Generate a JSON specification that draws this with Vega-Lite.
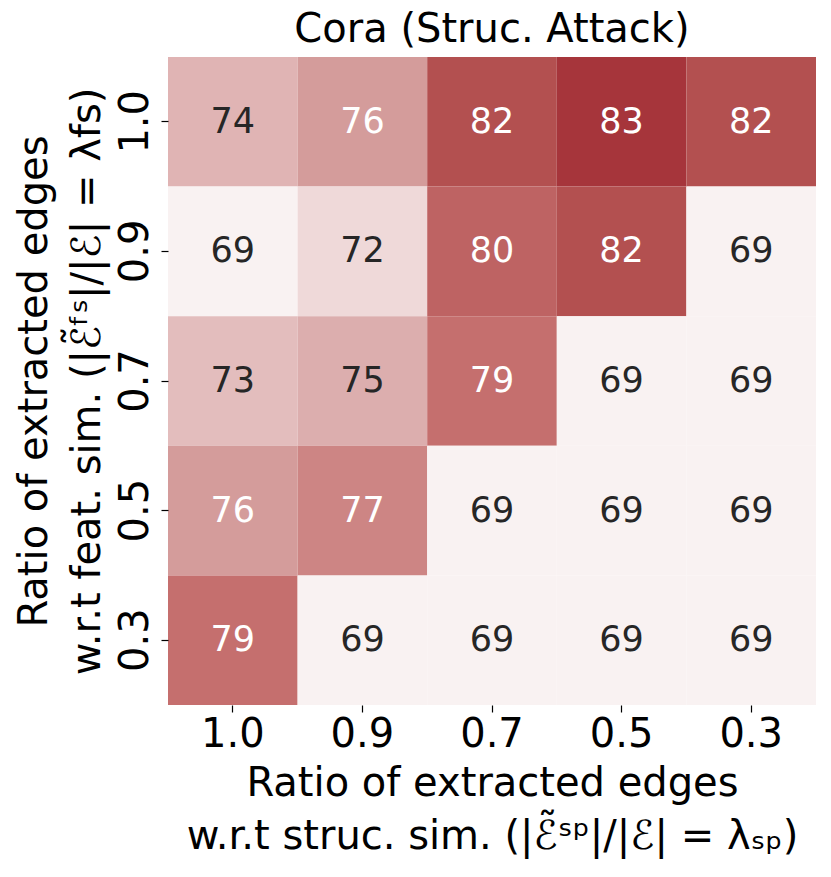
{
  "$schema": "https://vega.github.io/schema/vega-lite/v6.json",
  "autosize": "none",
  "padding": {"left": 168, "top": 57, "right": 15, "bottom": 172},
  "width": 648,
  "height": 648,
  "background": "white",
  "config": {
    "font": "DejaVu Sans",
    "view": {"stroke": null},
    "axis": {
      "domain": false,
      "ticks": true,
      "tickColor": "#000000",
      "tickSize": 7,
      "tickWidth": 1.2,
      "labelFontSize": 40,
      "labelColor": "#000000",
      "titleFontSize": 40,
      "titleFontWeight": "normal",
      "titleColor": "#000000",
      "grid": false
    }
  },
  "title": {
    "text": "Cora (Struc. Attack)",
    "fontSize": 40,
    "fontWeight": "normal",
    "color": "#000000",
    "anchor": "middle",
    "offset": 7
  },
  "data": {
    "values": [
      {"feat": "1.0", "struc": "1.0", "acc": 74},
      {"feat": "1.0", "struc": "0.9", "acc": 76},
      {"feat": "1.0", "struc": "0.7", "acc": 82},
      {"feat": "1.0", "struc": "0.5", "acc": 83},
      {"feat": "1.0", "struc": "0.3", "acc": 82},
      {"feat": "0.9", "struc": "1.0", "acc": 69},
      {"feat": "0.9", "struc": "0.9", "acc": 72},
      {"feat": "0.9", "struc": "0.7", "acc": 80},
      {"feat": "0.9", "struc": "0.5", "acc": 82},
      {"feat": "0.9", "struc": "0.3", "acc": 69},
      {"feat": "0.7", "struc": "1.0", "acc": 73},
      {"feat": "0.7", "struc": "0.9", "acc": 75},
      {"feat": "0.7", "struc": "0.7", "acc": 79},
      {"feat": "0.7", "struc": "0.5", "acc": 69},
      {"feat": "0.7", "struc": "0.3", "acc": 69},
      {"feat": "0.5", "struc": "1.0", "acc": 76},
      {"feat": "0.5", "struc": "0.9", "acc": 77},
      {"feat": "0.5", "struc": "0.7", "acc": 69},
      {"feat": "0.5", "struc": "0.5", "acc": 69},
      {"feat": "0.5", "struc": "0.3", "acc": 69},
      {"feat": "0.3", "struc": "1.0", "acc": 79},
      {"feat": "0.3", "struc": "0.9", "acc": 69},
      {"feat": "0.3", "struc": "0.7", "acc": 69},
      {"feat": "0.3", "struc": "0.5", "acc": 69},
      {"feat": "0.3", "struc": "0.3", "acc": 69}
    ]
  },
  "encoding": {
    "x": {
      "field": "struc",
      "type": "ordinal",
      "sort": ["1.0", "0.9", "0.7", "0.5", "0.3"],
      "scale": {"paddingInner": 0, "paddingOuter": 0},
      "axis": {
        "labelAngle": 0,
        "labelPadding": 2,
        "title": ["Ratio of extracted edges", "w.r.t struc. sim. (|ℰ̃ˢᵖ|/|ℰ| = λₛₚ)"],
        "titleLineHeight": 53,
        "titlePadding": 9
      }
    },
    "y": {
      "field": "feat",
      "type": "ordinal",
      "sort": ["1.0", "0.9", "0.7", "0.5", "0.3"],
      "scale": {"paddingInner": 0, "paddingOuter": 0},
      "axis": {
        "labelAngle": -90,
        "labelAlign": "center",
        "labelBaseline": "bottom",
        "labelPadding": 6,
        "title": ["Ratio of extracted edges", "w.r.t feat. sim. (|ℰ̃ᶠˢ|/|ℰ| = λfs)"],
        "titleLineHeight": 53,
        "titlePadding": 8
      }
    }
  },
  "layer": [
    {
      "mark": {"type": "rect"},
      "encoding": {
        "color": {
          "field": "acc",
          "type": "quantitative",
          "scale": {
            "domain": [69, 72, 73, 74, 75, 76, 77, 79, 80, 82, 83],
            "range": ["#f9f2f2", "#efd9d9", "#e3bdbd", "#e0b4b4", "#dcaeae", "#d49c9b", "#cd8584", "#c56f6e", "#be6363", "#b35050", "#a6353b"]
          },
          "legend": null
        }
      }
    },
    {
      "mark": {"type": "text", "fontSize": 35, "font": "DejaVu Sans"},
      "encoding": {
        "text": {"field": "acc", "type": "quantitative"},
        "color": {
          "condition": {"test": "datum.acc >= 76", "value": "#ffffff"},
          "value": "#262626"
        }
      }
    }
  ]
}
